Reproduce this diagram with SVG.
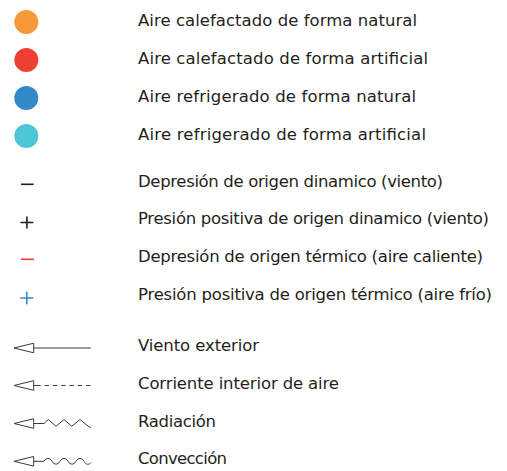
<svg xmlns="http://www.w3.org/2000/svg" width="507" height="471" viewBox="0 0 507 471">
<style>
text{font-family:"DejaVu Sans","Liberation Sans",sans-serif;font-size:16.5px;fill:#231f20}
.sym{stroke-width:1.6;fill:none}
.arr{stroke:#3a3a3a;stroke-width:1;fill:none}
</style>
<defs>
<path id="head" d="M33.7,-4.8 L14,0 L33.7,4.8 Z" class="arr" fill="#fff"/>
</defs>
<rect width="507" height="471" fill="#fff"/>
<g id="n1"><circle cx="26.3" cy="22" r="12" fill="#f7993a"/><text x="138" y="26" textLength="279">Aire calefactado de forma natural</text></g>
<g id="n2"><circle cx="26.3" cy="60" r="12" fill="#ee4035"/><text x="138" y="64" textLength="290">Aire calefactado de forma artificial</text></g>
<g id="n3"><circle cx="26.3" cy="98" r="12" fill="#3489c9"/><text x="138" y="102" textLength="278">Aire refrigerado de forma natural</text></g>
<g id="n4"><circle cx="26.3" cy="136" r="12" fill="#4fc6d6"/><text x="138" y="139.5" textLength="288">Aire refrigerado de forma artificial</text></g>
<g id="n5"><path class="sym" stroke="#231f20" d="M21,184.3H33.7"/><text x="138" y="186.5" textLength="305">Depresión de origen dinamico (viento)</text></g>
<g id="n6"><path class="sym" stroke="#231f20" stroke-width="1.3" d="M20.5,222.5H33.3M26.9,216.5V228.5"/><text x="138" y="224" textLength="351">Presión positiva de origen dinamico (viento)</text></g>
<g id="n7"><path class="sym" stroke="#ee4035" d="M21,259.3H34"/><text x="138" y="261.5" textLength="345">Depresión de origen térmico (aire caliente)</text></g>
<g id="n8"><path class="sym" stroke="#3489c9" stroke-width="1.3" d="M20.3,298H33.3M26.8,291.7V304.3"/><text x="138" y="299.5" textLength="354">Presión positiva de origen térmico (aire frío)</text></g>
<g id="connectors">
<g id="c1"><use href="#head" transform="translate(0,348)"/><path class="arr" d="M33.7,348H90.7"/></g>
<g id="c2"><use href="#head" transform="translate(0,385.5)"/><path class="arr" d="M33.7,385.5H36.3M36.3,385.5H90.7" stroke-dasharray="4.3 4"/></g>
<g id="c3"><use href="#head" transform="translate(0,423.5)"/><path class="arr" d="M33.7,423.5H44L48.3,419.5L56,426.3L64,419.5L71.7,426.3L80,419.5L88.3,426.3L90.7,427.5"/></g>
<g id="c4"><use href="#head" transform="translate(0,461.3)"/><path class="arr" d="M33.7,461.3H44C46,457.5 50,457.5 52,461.3S58,465 60,461.3S66,457.5 68,461.3S74,465 76,461.3S82,457.5 84,461.3S89,465 91,462.5"/></g>
</g>
<text x="138" y="351" textLength="121">Viento exterior</text>
<text x="138" y="389" textLength="201">Corriente interior de aire</text>
<text x="138" y="427" textLength="78">Radiación</text>
<text x="138" y="464" textLength="89">Convección</text>
</svg>
